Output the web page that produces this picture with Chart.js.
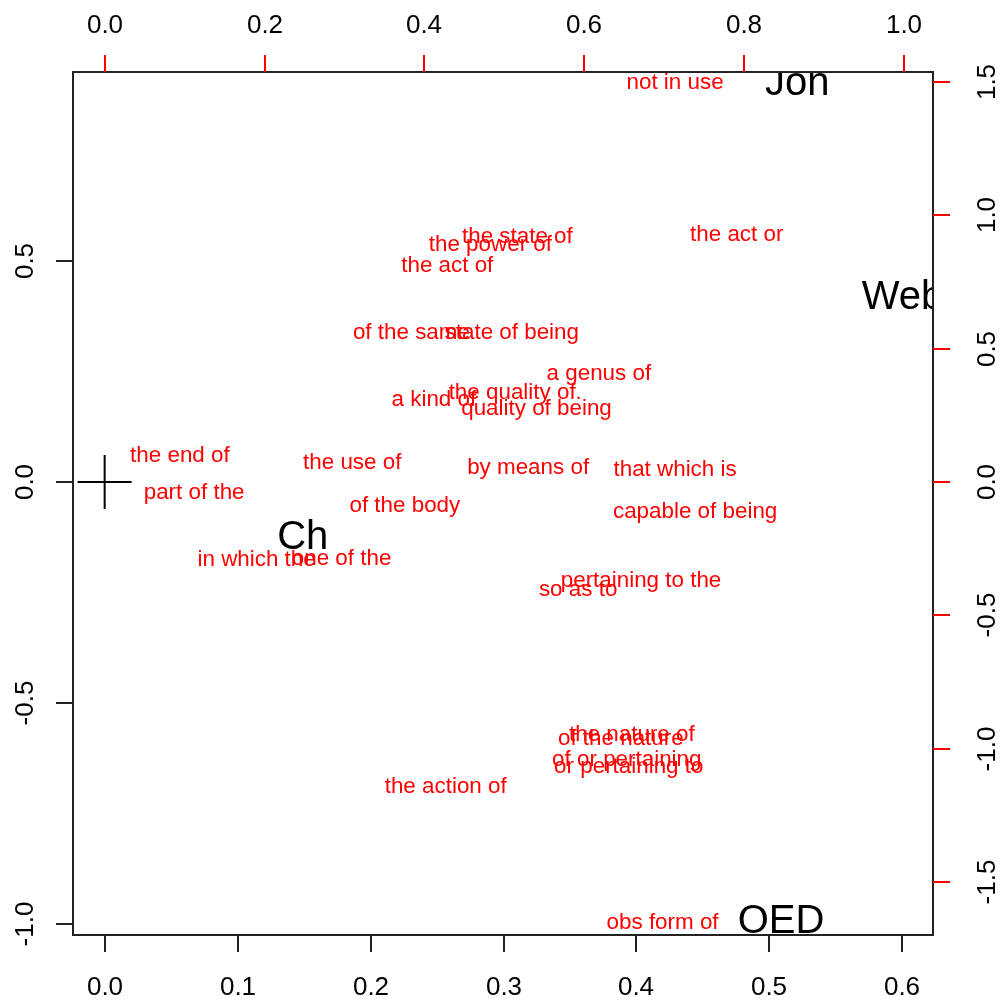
<!DOCTYPE html>
<html><head><meta charset="utf-8">
<script src="https://cdn.jsdelivr.net/npm/chart.js@4/dist/chart.umd.min.js"></script>
<style>html,body{margin:0;padding:0;background:#fff}#c{display:block}</style>
</head><body>
<canvas id="c" width="1007" height="1000"></canvas>
<script>
// Row (word) coordinates on the bottom / left axes
const wordLabels = [
  'not in use','the state of','the power of','the act or','the act of',
  'of the same','state of being','a genus of','the quality of.','a kind of',
  'quality of being','the end of','the use of','by means of','that which is',
  'part of the','of the body','capable of being','in which the','one of the',
  'pertaining to the','so as to','the nature of','of the nature','of or pertaining',
  'or pertaining to','the action of','obs form of'
];
const wordX = [
  0.4290,0.3104,0.2901,0.4754,0.2577,
  0.2307,0.3062,0.3717,0.3088,0.2476,
  0.3248,0.0566,0.1862,0.3185,0.4290,
  0.0673,0.2258,0.4441,0.1143,0.1782,
  0.4034,0.3561,0.3965,0.3882,0.3927,
  0.3942,0.2565,0.4196
];
const wordY = [
  0.9084,0.5588,0.5400,0.5627,0.4939,
  0.3416,0.3416,0.2489,0.2059,0.1900,
  0.1697,0.0633,0.0482,0.0362,0.0310,
  -0.0197,-0.0498,-0.0640,-0.1713,-0.1697,
  -0.2190,-0.2387,-0.5679,-0.5769,-0.6244,
  -0.6403,-0.6855,-0.9939
];
// Column (dictionary) coordinates on the top / right axes
const docLabels = ['Jon','Web','Ch','OED'];
const docX = [0.8665,0.9983,0.2478,0.8462];
const docY = [1.5056,0.7034,-0.1974,-1.6367];
// Origin marker
const originX = [0];
const originY = [0];

// Tick values and labels
const bottomTicks = [0,0.1,0.2,0.3,0.4,0.5,0.6];
const bottomTickLabels = ['0.0','0.1','0.2','0.3','0.4','0.5','0.6'];
const leftTicks = [-1,-0.5,0,0.5];
const leftTickLabels = ['-1.0','-0.5','0.0','0.5'];
const topTicks = [0,0.2,0.4,0.6,0.8,1.0];
const topTickLabels = ['0.0','0.2','0.4','0.6','0.8','1.0'];
const rightTicks = [-1.5,-1,-0.5,0,0.5,1,1.5];
const rightTickLabels = ['-1.5','-1.0','-0.5','0.0','0.5','1.0','1.5'];

const FONT = '"Liberation Sans", Arial, sans-serif';

const rAxes = {
  id: 'rAxes',
  afterDatasetsDraw(chart) {
    const ctx = chart.ctx, a = chart.chartArea, s = chart.scales;
    // text labels
    ctx.save();
    ctx.beginPath();
    ctx.rect(a.left, a.top, a.right - a.left, a.bottom - a.top);
    ctx.clip();
    ctx.textAlign = 'center';
    ctx.textBaseline = 'alphabetic';
    chart.data.datasets.forEach((ds, i) => {
      if (!ds.textLabels) return;
      const meta = chart.getDatasetMeta(i);
      ctx.font = ds.textSize + 'px ' + FONT;
      ctx.fillStyle = ds.textColor;
      meta.data.forEach((el, j) => {
        ctx.fillText(ds.textLabels[j], el.x, el.y + ds.textSize * 0.36);
      });
    });
    ctx.restore();

    // box
    ctx.save();
    ctx.strokeStyle = '#222';
    ctx.lineWidth = 2;
    ctx.strokeRect(a.left, a.top, a.right - a.left, a.bottom - a.top);

    const TS = 26, TL = 17;
    ctx.font = TS + 'px ' + FONT;
    ctx.textAlign = 'center';
    ctx.textBaseline = 'alphabetic';
    ctx.fillStyle = '#000';

    // bottom axis
    ctx.strokeStyle = '#222';
    bottomTicks.forEach((v, i) => {
      const px = Math.round(s.x.getPixelForValue(v));
      ctx.beginPath(); ctx.moveTo(px, a.bottom); ctx.lineTo(px, a.bottom + TL); ctx.stroke();
      ctx.fillText(bottomTickLabels[i], px, 986 + TS * 0.36);
    });
    // left axis
    leftTicks.forEach((v, i) => {
      const py = Math.round(s.y.getPixelForValue(v));
      ctx.beginPath(); ctx.moveTo(a.left, py); ctx.lineTo(a.left - TL, py); ctx.stroke();
      ctx.save(); ctx.translate(23.5, py); ctx.rotate(-Math.PI / 2);
      ctx.fillText(leftTickLabels[i], 0, TS * 0.36); ctx.restore();
    });
    // top axis (red ticks)
    ctx.strokeStyle = '#ff0000';
    topTicks.forEach((v, i) => {
      const px = Math.round(s.x2.getPixelForValue(v));
      ctx.beginPath(); ctx.moveTo(px, a.top); ctx.lineTo(px, a.top - TL); ctx.stroke();
      ctx.fillText(topTickLabels[i], px, 23.5 + TS * 0.36);
    });
    // right axis (red ticks)
    rightTicks.forEach((v, i) => {
      const py = Math.round(s.y2.getPixelForValue(v));
      ctx.beginPath(); ctx.moveTo(a.right, py); ctx.lineTo(a.right + TL, py); ctx.stroke();
      ctx.save(); ctx.translate(986, py); ctx.rotate(-Math.PI / 2);
      ctx.fillText(rightTickLabels[i], 0, TS * 0.36); ctx.restore();
    });
    ctx.restore();
  }
};

const hidden = { display: false };
new Chart(document.getElementById('c'), {
  type: 'scatter',
  data: {
    datasets: [
      {
        label: 'words',
        data: wordX.map((x, i) => ({ x: x, y: wordY[i] })),
        xAxisID: 'x', yAxisID: 'y',
        pointRadius: 0, pointHoverRadius: 0,
        textLabels: wordLabels, textColor: '#ff0000', textSize: 22.4
      },
      {
        label: 'dictionaries',
        data: docX.map((x, i) => ({ x: x, y: docY[i] })),
        xAxisID: 'x2', yAxisID: 'y2',
        pointRadius: 0, pointHoverRadius: 0,
        textLabels: docLabels, textColor: '#000000', textSize: 40
      },
      {
        label: 'origin',
        data: originX.map((x, i) => ({ x: x, y: originY[i] })),
        xAxisID: 'x', yAxisID: 'y',
        pointStyle: 'cross', pointRadius: 27, pointHoverRadius: 27,
        pointBorderWidth: 2, borderColor: '#000', backgroundColor: '#000'
      }
    ]
  },
  options: {
    responsive: false,
    animation: false,
    devicePixelRatio: 1,
    events: [],
    layout: { padding: { left: 73, top: 72, right: 74, bottom: 65 } },
    plugins: { legend: hidden, tooltip: { enabled: false }, title: hidden },
    scales: {
      x:  { type: 'linear', position: 'bottom', min: -0.0238, max: 0.623, display: false },
      y:  { type: 'linear', position: 'left', min: -1.0249, max: 0.9276, display: false },
      x2: { type: 'linear', position: 'top', min: -0.0396, max: 1.0364, display: false },
      y2: { type: 'linear', position: 'right', min: -1.697, max: 1.536, display: false }
    }
  },
  plugins: [rAxes]
});
</script>
</body></html>
